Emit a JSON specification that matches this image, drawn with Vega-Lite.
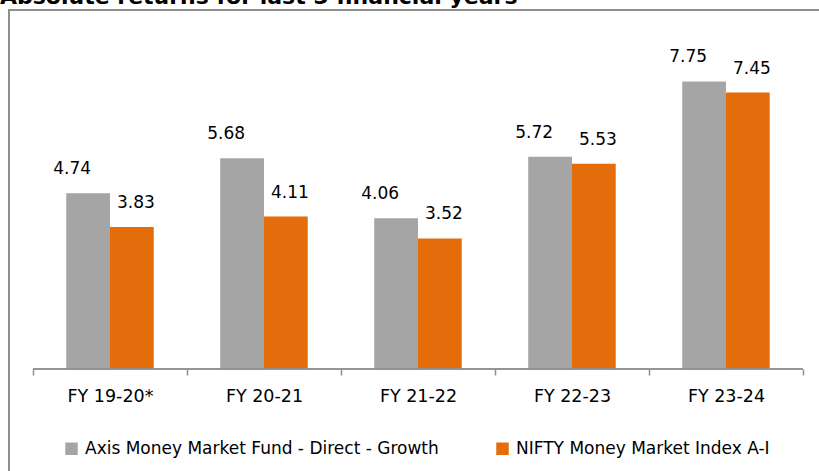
{
  "$schema": "https://vega.github.io/schema/vega-lite/v6.json",
  "width": 812,
  "height": 470,
  "autosize": "none",
  "padding": {"left": 9, "top": 10, "right": 0, "bottom": 0},
  "background": "white",
  "title": {
    "text": "Absolute returns for last 5 financial years",
    "anchor": "start",
    "frame": "group",
    "baseline": "alphabetic",
    "offset": -16,
    "dx": -9,
    "font": "DejaVu Sans",
    "fontSize": 22,
    "fontWeight": "bold",
    "color": "black"
  },
  "config": {
    "view": {"stroke": "#8F8F8F", "strokeWidth": 2},
    "text": {"font": "DejaVu Sans", "fontSize": 17, "color": "black"}
  },
  "data": {
    "values": [
      {"year": "FY 19-20*", "series": "Axis Money Market Fund - Direct - Growth", "value": 4.74},
      {"year": "FY 19-20*", "series": "NIFTY Money Market Index A-I", "value": 3.83},
      {"year": "FY 20-21", "series": "Axis Money Market Fund - Direct - Growth", "value": 5.68},
      {"year": "FY 20-21", "series": "NIFTY Money Market Index A-I", "value": 4.11},
      {"year": "FY 21-22", "series": "Axis Money Market Fund - Direct - Growth", "value": 4.06},
      {"year": "FY 21-22", "series": "NIFTY Money Market Index A-I", "value": 3.52},
      {"year": "FY 22-23", "series": "Axis Money Market Fund - Direct - Growth", "value": 5.72},
      {"year": "FY 22-23", "series": "NIFTY Money Market Index A-I", "value": 5.53},
      {"year": "FY 23-24", "series": "Axis Money Market Fund - Direct - Growth", "value": 7.75},
      {"year": "FY 23-24", "series": "NIFTY Money Market Index A-I", "value": 7.45}
    ]
  },
  "encoding": {
    "x": {
      "field": "year",
      "type": "nominal",
      "sort": null,
      "title": null,
      "scale": {"paddingInner": 0, "paddingOuter": 0.1364, "align": 0.571},
      "axis": {
        "domain": false,
        "ticks": true,
        "tickBand": "extent",
        "tickSize": 6,
        "tickColor": "#8F8F8F",
        "tickWidth": 1.5,
        "offset": -111,
        "labelAngle": 0,
        "labelFont": "DejaVu Sans",
        "labelFontSize": 17.5,
        "labelColor": "black",
        "labelPadding": 12,
        "grid": false
      }
    }
  },
  "layer": [
    {
      "mark": {"type": "bar"},
      "encoding": {
        "xOffset": {"field": "series", "type": "nominal", "scale": {"paddingInner": 0, "paddingOuter": 0.76}},
        "y": {
          "field": "value",
          "type": "quantitative",
          "scale": {"domain": [-2.992, 9.676], "nice": false, "zero": false},
          "axis": null
        },
        "y2": {"datum": 0},
        "color": {
          "field": "series",
          "type": "nominal",
          "scale": {
            "domain": ["Axis Money Market Fund - Direct - Growth", "NIFTY Money Market Index A-I"],
            "range": ["#A5A5A5", "#E46C0A"]
          },
          "legend": {
            "title": null,
            "orient": "none",
            "direction": "horizontal",
            "legendX": 54,
            "legendY": 430,
            "symbolType": "square",
            "symbolSize": 156,
            "symbolStrokeWidth": 0,
            "labelFont": "DejaVu Sans",
            "labelFontSize": 17,
            "labelColor": "black",
            "labelOffset": 5,
            "labelLimit": 0,
            "columnPadding": 55,
            "padding": 0
          }
        }
      }
    },
    {
      "transform": [{"filter": "datum.series === 'Axis Money Market Fund - Direct - Growth'"}],
      "mark": {"type": "text", "baseline": "middle", "dy": -24, "dx": -16},
      "encoding": {
        "xOffset": {"field": "series", "type": "nominal"},
        "y": {"field": "value", "type": "quantitative"},
        "text": {"field": "value", "type": "quantitative", "format": ".2f"}
      }
    },
    {
      "transform": [{"filter": "datum.series === 'NIFTY Money Market Index A-I'"}],
      "mark": {"type": "text", "baseline": "middle", "dy": -24, "dx": 4},
      "encoding": {
        "xOffset": {"field": "series", "type": "nominal"},
        "y": {"field": "value", "type": "quantitative"},
        "text": {"field": "value", "type": "quantitative", "format": ".2f"}
      }
    },
    {
      "mark": {"type": "bar", "fill": null, "stroke": "#8F8F8F", "strokeWidth": 1.5},
      "encoding": {
        "y": {"datum": 0},
        "y2": {"datum": 0}
      }
    }
  ]
}
